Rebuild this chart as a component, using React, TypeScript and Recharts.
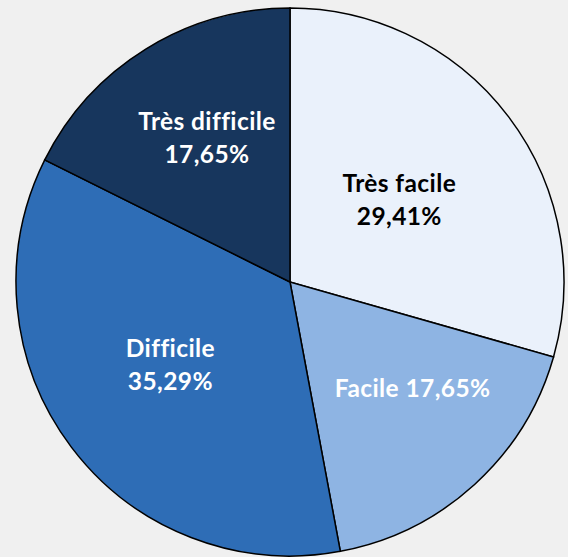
import { Pie, PieChart, Cell } from "recharts";

const categories = ["Très facile", "Facile", "Difficile", "Très difficile"];
const counts = [5, 3, 6, 3];
const percentLabels = ["29,41%", "17,65%", "35,29%", "17,65%"];
const sliceColors = ["#EAF1FB", "#8EB4E3", "#2E6DB6", "#17365D"];
const labelColors = ["#000000", "#FFFFFF", "#FFFFFF", "#FFFFFF"];

// per-slice label placement (radius fraction, angle shift in degrees)
const labelPlacement = [
  { r: 0.5, da: 0, oneLine: false },
  { r: 0.59, da: 7, oneLine: true },
  { r: 0.53, da: -2.5, oneLine: false },
  { r: 0.61, da: -2, oneLine: false },
];

const chartData = categories.map((name, i) => ({
  name,
  value: counts[i],
  pct: percentLabels[i],
}));

const RAD = Math.PI / 180;

function renderLabel(props: any) {
  const { cx, cy, midAngle, outerRadius, index } = props;
  const p = labelPlacement[index];
  const a = (midAngle + p.da) * RAD;
  const r = outerRadius * p.r;
  const x = cx + r * Math.cos(a);
  const y = cy - r * Math.sin(a);
  const style = {
    fontFamily: "Lato, 'Open Sans', sans-serif",
    fontWeight: 700,
    fontSize: 24.5,
    letterSpacing: 0.4,
  };
  if (p.oneLine) {
    return (
      <text
        x={x}
        y={y}
        fill={labelColors[index]}
        textAnchor="middle"
        dominantBaseline="central"
        style={style}
      >
        {`${categories[index]} ${percentLabels[index]}`}
      </text>
    );
  }
  return (
    <text
      x={x}
      y={y}
      fill={labelColors[index]}
      textAnchor="middle"
      style={style}
    >
      <tspan x={x} dy={-7}>
        {categories[index]}
      </tspan>
      <tspan x={x} dy={33}>
        {percentLabels[index]}
      </tspan>
    </text>
  );
}

export default function App() {
  return (
    <div
      style={{
        position: "absolute",
        left: 0,
        top: 0,
        width: 568,
        height: 557,
        background: "#F0F0F0",
      }}
    >
      <PieChart width={568} height={557}>
        <Pie
          data={chartData}
          dataKey="value"
          nameKey="name"
          cx={285}
          cy={277}
          outerRadius={274}
          startAngle={90}
          endAngle={-270}
          stroke="#000"
          strokeWidth={1.5}
          label={renderLabel}
          labelLine={false}
          isAnimationActive={false}
        >
          {chartData.map((d, i) => (
            <Cell key={d.name} fill={sliceColors[i]} />
          ))}
        </Pie>
      </PieChart>
    </div>
  );
}
